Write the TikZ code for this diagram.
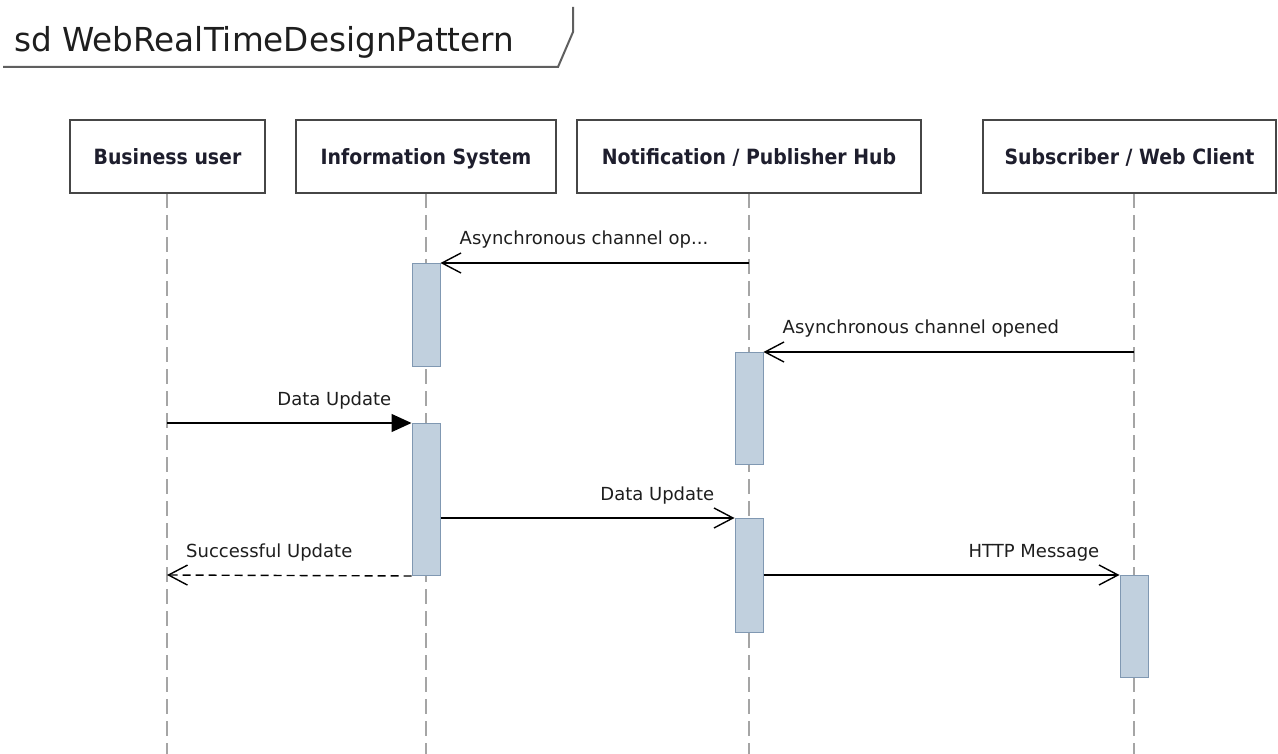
\documentclass[tikz,border=0pt]{standalone}
\usepackage{fontspec}
\setmainfont{DejaVu Sans}
\newfontfamily\titlefont[FakeStretch=0.99]{DejaVu Sans}
\newfontfamily\headfont[FakeStretch=0.9]{DejaVu Sans}
\usetikzlibrary{arrows.meta}

\definecolor{lifegray}{RGB}{165,165,165}
\definecolor{barfill}{RGB}{193,208,222}
\definecolor{bardraw}{RGB}{128,152,178}
\definecolor{boxdraw}{RGB}{70,70,70}
\definecolor{headtext}{RGB}{30,30,45}
\definecolor{labeltext}{RGB}{30,30,30}
\definecolor{framegray}{RGB}{95,95,95}

\tikzset{
  participant/.style={draw=boxdraw, line width=1.5pt, fill=white,
    minimum height=73pt, inner sep=0pt, text height=17pt, text depth=0pt,
    font=\headfont\bfseries\fontsize{21}{25}\selectfont, text=headtext},
  lifeline/.style={draw=lifegray, line width=1.4pt, dash pattern=on 15pt off 7pt},
  activation/.style={draw=bardraw, fill=barfill, line width=1pt,
    minimum width=28pt, inner sep=0pt, anchor=north},
  msg/.style={line width=1.4pt,
    -{Straight Barb[length=19pt,width=20pt,line width=1.4pt]}},
  syncmsg/.style={line width=1.4pt, -{Triangle[length=20pt,width=18pt]}},
  replymsg/.style={msg, dash pattern=on 8pt off 5pt},
  msglabel/.style={font=\fontsize{18}{21}\selectfont, text=labeltext, inner sep=0pt}
}

\begin{document}
\begin{tikzpicture}[x=1pt,y=-1pt]
\useasboundingbox (0,0) rectangle (1278,754);

% diagram frame tab
\draw[framegray, line width=2pt] (3,67) -- (558,67) -- (573,32) -- (573,7);
\node[anchor=base west, inner sep=0pt, text=labeltext,
  font=\titlefont\fontsize{33}{38}\selectfont] (title) at (14,52) {sd WebRealTimeDesignPattern};

% lifeline anchors
\coordinate (buTop) at (167,193);   \coordinate (buBot) at (167,754);
\coordinate (isTop) at (426,193);   \coordinate (isBot) at (426,754);
\coordinate (nhTop) at (749,193);   \coordinate (nhBot) at (749,754);
\coordinate (scTop) at (1134,193);  \coordinate (scBot) at (1134,754);

% lifelines
\draw[lifeline] (buTop) -- (buBot);
\draw[lifeline] (isTop) -- (isBot);
\draw[lifeline] (nhTop) -- (nhBot);
\draw[lifeline] (scTop) -- (scBot);

% participants
\node[participant, minimum width=195pt] (bu) at (167.5,156.5) {Business user};
\node[participant, minimum width=260pt] (is) at (426,156.5) {Information System};
\node[participant, minimum width=344pt] (nh) at (749,156.5) {Notification / Publisher Hub};
\node[participant, minimum width=293pt] (sc) at (1129.5,156.5) {Subscriber / Web Client};

% activation bars
\node[activation, minimum height=103pt] (is1) at (426,263) {};
\node[activation, minimum height=112pt] (nh1) at (749,352) {};
\node[activation, minimum height=152pt] (is2) at (426,423) {};
\node[activation, minimum height=114pt] (nh2) at (749,518) {};
\node[activation, minimum height=102pt] (sc1) at (1134,575) {};

% message end points on lifelines
\coordinate (m1s) at (749,263);
\coordinate (m2s) at (1134,352);
\coordinate (m3s) at (167,423);
\coordinate (m5e) at (167,575);

% messages
\draw[msg] (m1s) -- (is1.north east);
\node[msglabel, anchor=base west] (l1) at ([xshift=19pt,yshift=18pt]is1.north east) {Asynchronous channel op...};

\draw[msg] (m2s) -- (nh1.north east);
\node[msglabel, anchor=base west] (l2) at ([xshift=19pt,yshift=18pt]nh1.north east) {Asynchronous channel opened};

\draw[syncmsg] (m3s) -- (is2.north west);
\node[msglabel, anchor=base east] (l3) at ([xshift=-20pt,yshift=18pt]is2.north west) {Data Update};

\draw[msg] (is2.east |- nh2.north) -- (nh2.north west);
\node[msglabel, anchor=base east] (l4) at ([xshift=-20pt,yshift=18pt]nh2.north west) {Data Update};

\draw[replymsg] (is2.south west) -- (m5e);
\node[msglabel, anchor=base west] (l5) at ([xshift=19pt,yshift=18pt]m5e) {Successful Update};

\draw[msg] (nh2.east |- sc1.north) -- (sc1.north west);
\node[msglabel, anchor=base east] (l6) at ([xshift=-20pt,yshift=18pt]sc1.north west) {HTTP Message};
\end{tikzpicture}
\end{document}
